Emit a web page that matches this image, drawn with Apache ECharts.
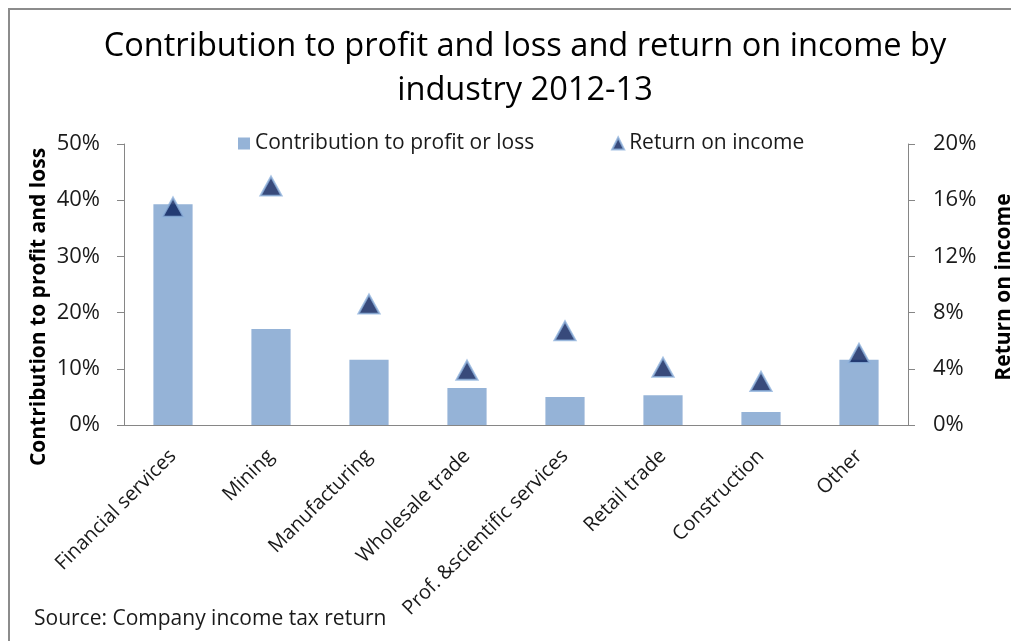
<!DOCTYPE html>
<html>
<head>
<meta charset="utf-8">
<title>Contribution to profit and loss by industry</title>
<script src="https://cdn.jsdelivr.net/npm/echarts@6/dist/echarts.min.js"></script>
<style>
  html, body { margin: 0; padding: 0; background: #fff; }
  #chart { width: 1011px; height: 641px; }
</style>
</head>
<body>
<div id="chart"></div>
<script>
// industries on the x axis
const industries = [
  "Financial services",
  "Mining",
  "Manufacturing",
  "Wholesale trade",
  "Prof. &scientific services",
  "Retail trade",
  "Construction",
  "Other"
];
// contribution to profit or loss (%), left axis
const contribution = [39.3, 17.1, 11.6, 6.6, 5.0, 5.3, 2.3, 11.6];
// return on income (%), right axis
const returnOnIncome = [15.5, 17.0, 8.6, 3.9, 6.7, 4.1, 3.1, 5.1];

const font = "Open Sans";
const textColor = "#1a1a1a";
const axisColor = "#868686";

const chart = echarts.init(document.getElementById("chart"));

const option = {
  backgroundColor: "#fff",
  animation: false,
  title: {
    text: "Contribution to profit and loss and return on income by\nindustry 2012-13",
    left: 520,
    top: 20,
    textAlign: "center",
    textStyle: {
      fontFamily: font,
      fontSize: 32.6,
      fontWeight: "normal",
      color: "#000",
      lineHeight: 44
    }
  },
  legend: {
    left: 233,
    top: 128,
    itemWidth: 12,
    itemHeight: 12,
    itemGap: 77,
    textStyle: { fontFamily: font, fontSize: 21, color: textColor },
    data: [
      { name: "Contribution to profit or loss", icon: "rect" },
      { name: "Return on income", icon: "triangle" }
    ]
  },
  grid: { left: 124, right: 103, top: 144, bottom: 216 },
  xAxis: {
    type: "category",
    data: industries,
    axisLine: { lineStyle: { color: axisColor } },
    axisTick: { length: 7, lineStyle: { color: axisColor } },
    axisLabel: {
      rotate: 45,
      margin: 28,
      interval: 0,
      fontFamily: font,
      fontSize: 20,
      color: textColor
    }
  },
  yAxis: [
    {
      type: "value",
      min: 0,
      max: 50,
      interval: 10,
      position: "left",
      axisLine: { show: true, lineStyle: { color: axisColor } },
      axisTick: { show: true, length: 7, lineStyle: { color: axisColor } },
      splitLine: { show: false },
      axisLabel: {
        formatter: "{value}%",
        margin: 24,
        fontFamily: font,
        fontSize: 22,
        color: textColor
      }
    },
    {
      type: "value",
      min: 0,
      max: 20,
      interval: 4,
      position: "right",
      axisLine: { show: true, lineStyle: { color: axisColor } },
      axisTick: { show: true, length: 7, lineStyle: { color: axisColor } },
      splitLine: { show: false },
      axisLabel: {
        formatter: "{value}%",
        margin: 25,
        fontFamily: font,
        fontSize: 22,
        color: textColor
      }
    }
  ],
  series: [
    {
      name: "Contribution to profit or loss",
      type: "bar",
      yAxisIndex: 0,
      barWidth: "40%",
      data: contribution,
      itemStyle: { color: "#95B3D7" }
    },
    {
      name: "Return on income",
      type: "scatter",
      yAxisIndex: 1,
      symbol: "triangle",
      symbolSize: [21, 19],
      data: returnOnIncome,
      itemStyle: {
        color: "#061D5A",
        borderColor: "#8EB1DC",
        borderWidth: 2
      },
      z: 5
    }
  ],
  graphic: [
    {
      type: "rect",
      shape: { x: 9, y: 9, width: 1100, height: 700 },
      style: { fill: "none", stroke: "#8c8c8c", lineWidth: 2 },
      silent: true
    },
    {
      type: "text",
      x: 39,
      y: 307,
      rotation: Math.PI / 2,
      style: {
        text: "Contribution to profit and loss",
        font: "bold 21px 'Open Sans'",
        fill: "#000",
        align: "center",
        verticalAlign: "middle"
      }
    },
    {
      type: "text",
      x: 1004,
      y: 287,
      rotation: Math.PI / 2,
      style: {
        text: "Return on income",
        font: "bold 21px 'Open Sans'",
        fill: "#000",
        align: "center",
        verticalAlign: "middle"
      }
    },
    {
      type: "text",
      left: 34,
      top: 609,
      style: {
        text: "Source: Company income tax return",
        font: "21px 'Open Sans'",
        fill: textColor
      }
    }
  ]
};

chart.setOption(option);
</script>
</body>
</html>
